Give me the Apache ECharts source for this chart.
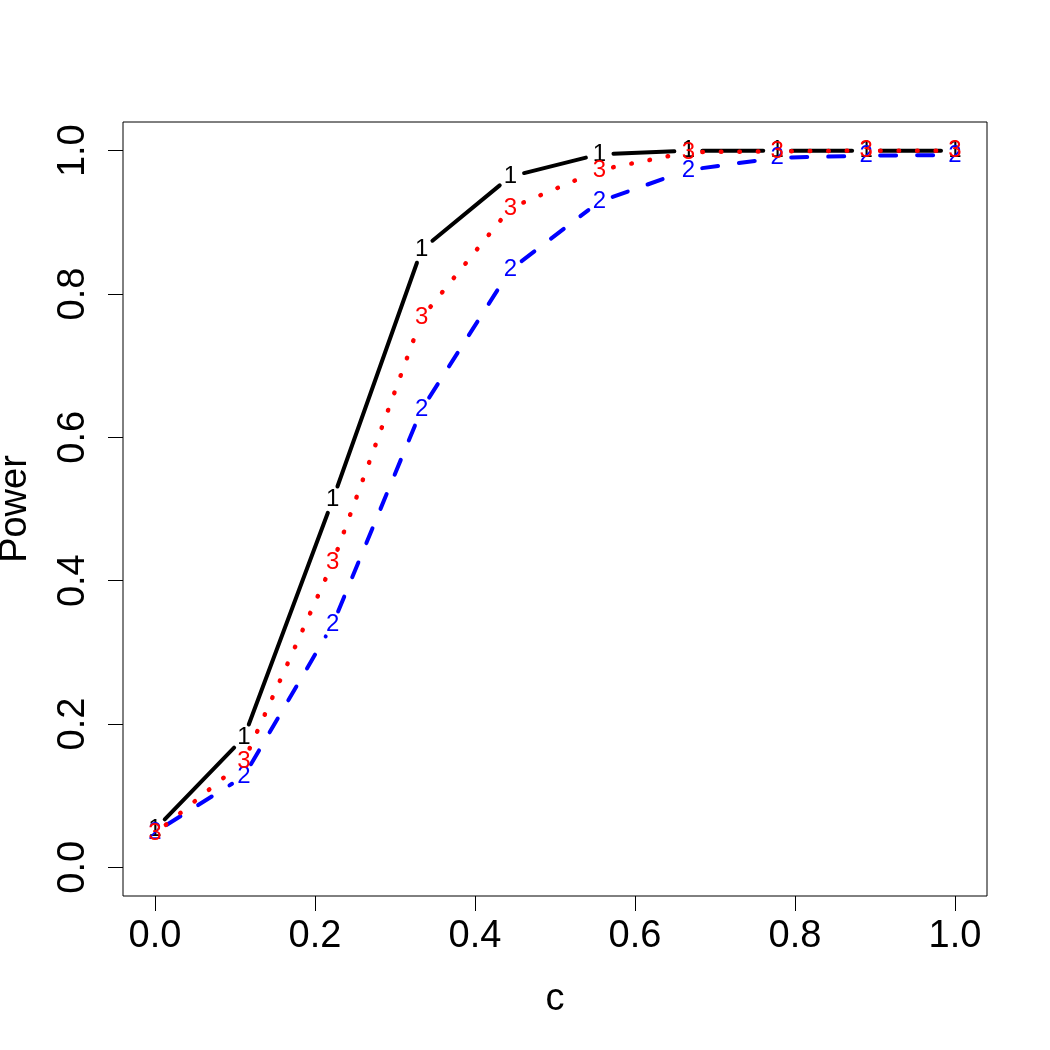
<!DOCTYPE html>
<html>
<head>
<meta charset="utf-8">
<script src="https://cdn.jsdelivr.net/npm/echarts@6/dist/echarts.min.js"></script>
<style>html,body{margin:0;padding:0;background:#fff}#c{width:1050px;height:1050px}</style>
</head>
<body>
<div id="c"></div>
<script>
// x values (c)
const cValues = [0, 0.1111, 0.2222, 0.3333, 0.4444, 0.5556, 0.6667, 0.7778, 0.8889, 1.0];
// power curves
const power1 = [0.053, 0.181, 0.513, 0.862, 0.964, 0.995, 1.0, 1.0, 1.0, 1.0];
const power2 = [0.049, 0.127, 0.339, 0.639, 0.834, 0.929, 0.973, 0.990, 0.993, 0.994];
const power3 = [0.047, 0.148, 0.425, 0.767, 0.920, 0.973, 0.998, 0.999, 1.0, 1.0];
const xTicks = [0, 0.2, 0.4, 0.6, 0.8, 1.0];
const yTicks = [0, 0.2, 0.4, 0.6, 0.8, 1.0];

const FONT = 'Liberation Sans';
const GAP = 14;

function buildData(ys) {
  const n = cValues.length;
  return cValues.map((x, i) => {
    const j = i < n - 1 ? i + 1 : i;
    return [x, ys[i], cValues[j], ys[j]];
  });
}

function makeRender(color, dash, width, label) {
  return function (params, api) {
    const p = api.coord([api.value(0), api.value(1)]);
    const q = api.coord([api.value(2), api.value(3)]);
    const children = [];
    const dx = q[0] - p[0], dy = q[1] - p[1];
    const len = Math.hypot(dx, dy);
    if (len > 2 * GAP) {
      const ux = dx / len, uy = dy / len;
      children.push({
        type: 'line',
        shape: { x1: p[0] + ux * GAP, y1: p[1] + uy * GAP, x2: q[0] - ux * GAP, y2: q[1] - uy * GAP },
        style: { stroke: color, lineWidth: width, lineDash: dash, lineCap: 'round', fill: null }
      });
    }
    children.push({
      type: 'text',
      x: p[0], y: p[1],
      style: { text: label, fill: color, fontSize: 24, fontFamily: FONT, align: 'center', verticalAlign: 'middle' }
    });
    return { type: 'group', children: children };
  };
}

const chart = echarts.init(document.getElementById('c'), null, { renderer: 'canvas' });
chart.setOption({
  backgroundColor: '#fff',
  animation: false,
  grid: { left: 123, right: 63, top: 122, bottom: 154, containLabel: false, outerBoundsMode: 'none', show: true, borderColor: '#000', borderWidth: 1, backgroundColor: 'transparent' },
  xAxis: {
    type: 'value', min: -0.04, max: 1.04,
    name: 'c', nameLocation: 'middle', nameGap: 85,
    nameTextStyle: { fontSize: 38, fontFamily: FONT, color: '#000' },
    axisLine: { show: false, onZero: false },
    splitLine: { show: false },
    axisTick: { show: true, inside: false, length: 15, customValues: xTicks, lineStyle: { color: '#000', width: 1 } },
    axisLabel: { show: true, customValues: xTicks, margin: 22, fontSize: 38, fontFamily: FONT, color: '#000', formatter: v => v.toFixed(1) }
  },
  yAxis: {
    type: 'value', min: -0.04, max: 1.04,
    name: 'Power', nameLocation: 'middle', nameGap: 88, nameRotate: 90,
    nameTextStyle: { fontSize: 38, fontFamily: FONT, color: '#000' },
    axisLine: { show: false, onZero: false },
    splitLine: { show: false },
    axisTick: { show: true, inside: false, length: 15, customValues: yTicks, lineStyle: { color: '#000', width: 1 } },
    axisLabel: { show: true, customValues: yTicks, margin: 30, rotate: 90, fontSize: 38, fontFamily: FONT, color: '#000', formatter: v => v.toFixed(1) }
  },
  series: [
    { type: 'custom', name: '1', renderItem: makeRender('#000000', null, 4, '1'), data: buildData(power1), encode: { x: [0, 2], y: [1, 3] }, z: 2 },
    { type: 'custom', name: '2', renderItem: makeRender('#0000ff', [16, 21], 4, '2'), data: buildData(power2), encode: { x: [0, 2], y: [1, 3] }, z: 3 },
    { type: 'custom', name: '3', renderItem: makeRender('#ff0000', [0.5, 18], 4.5, '3'), data: buildData(power3), encode: { x: [0, 2], y: [1, 3] }, z: 4 }
  ]
});
</script>
</body>
</html>
